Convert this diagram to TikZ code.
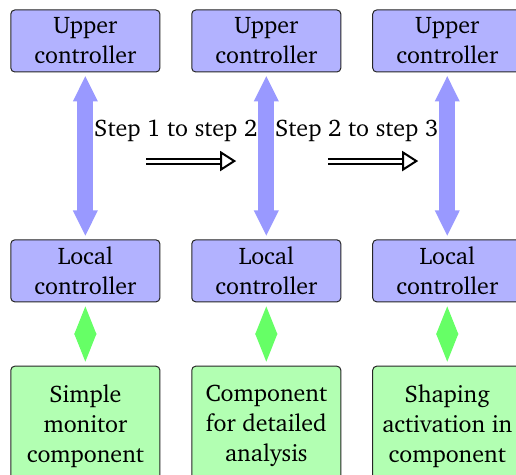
\documentclass[tikz,border=0pt]{standalone}
\usepackage[T1]{fontenc}
\usepackage{charter}
\usepackage{xcolor}
\usepackage{tikz}
\usetikzlibrary{arrows.meta, positioning}

\begin{document}
\begin{tikzpicture}[
    ctrl/.style={rectangle,draw=black!85,line width=0.5pt,fill=blue!30,minimum width=2.62cm,minimum height=1.09cm,rounded corners=2pt,align=center,font=\fontsize{12}{15}\selectfont},
    comp/.style={rectangle,draw=black!85,line width=0.5pt,fill=green!30,minimum width=2.62cm,minimum height=2.11cm,rounded corners=2pt,align=center,font=\fontsize{12}{15}\selectfont},
    link/.style={{Triangle[length=13pt,width=11.5pt]}-{Triangle[length=13pt,width=11.5pt]},line width=8pt,draw=blue!40,shorten <=1.5pt,shorten >=1.5pt},
    bind/.style={{Triangle[length=14pt,width=11pt]}-{Triangle[length=14pt,width=11pt]},line width=0.6pt,draw=green!60,shorten <=2pt,shorten >=2pt},
    stepto/.style={-{Triangle[open,length=8pt,width=10pt,line width=1pt,fill=white]},double,double distance=1.5pt,line width=1pt},
    steplabel/.style={font=\fontsize{12}{15}\selectfont,inner sep=1pt}
]
    \useasboundingbox (0,0) rectangle (9.068,-8.347);

    % Controllori superiori
    \node[ctrl] (upper1) at (1.50,-0.72) {Upper\\controller};
    \node[ctrl] (upper2) at (4.68,-0.72) {Upper\\controller};
    \node[ctrl] (upper3) at (7.86,-0.72) {Upper\\controller};

    % Controllori locali
    \node[ctrl] (local1) at (1.50,-4.76) {Local\\controller};
    \node[ctrl] (local2) at (4.68,-4.76) {Local\\controller};
    \node[ctrl] (local3) at (7.86,-4.76) {Local\\controller};

    % Componenti
    \node[comp] (comp1) at (1.50,-7.49) {Simple\\monitor\\component};
    \node[comp] (comp2) at (4.68,-7.49) {Component\\for detailed\\analysis};
    \node[comp] (comp3) at (7.86,-7.49) {Shaping\\activation in\\component};

    % Collegamenti
    \draw[link] (upper1) -- (local1);
    \draw[link] (upper2) -- (local2);
    \draw[link] (upper3) -- (local3);
    \draw[bind] (local1) -- (comp1);
    \draw[bind] (local2) -- (comp2);
    \draw[bind] (local3) -- (comp3);

    % Passaggi
    \node[steplabel] (step12) at (3.09,-2.30) {Step 1 to step 2};
    \node[steplabel] (step23) at (6.27,-2.30) {Step 2 to step 3};
    \coordinate (s12a) at (2.57,-2.83);
    \coordinate (s12b) at (4.15,-2.83);
    \coordinate (s23a) at (5.76,-2.83);
    \coordinate (s23b) at (7.35,-2.83);
    \draw[stepto] (s12a) -- (s12b);
    \draw[stepto] (s23a) -- (s23b);
\end{tikzpicture}
\end{document}
